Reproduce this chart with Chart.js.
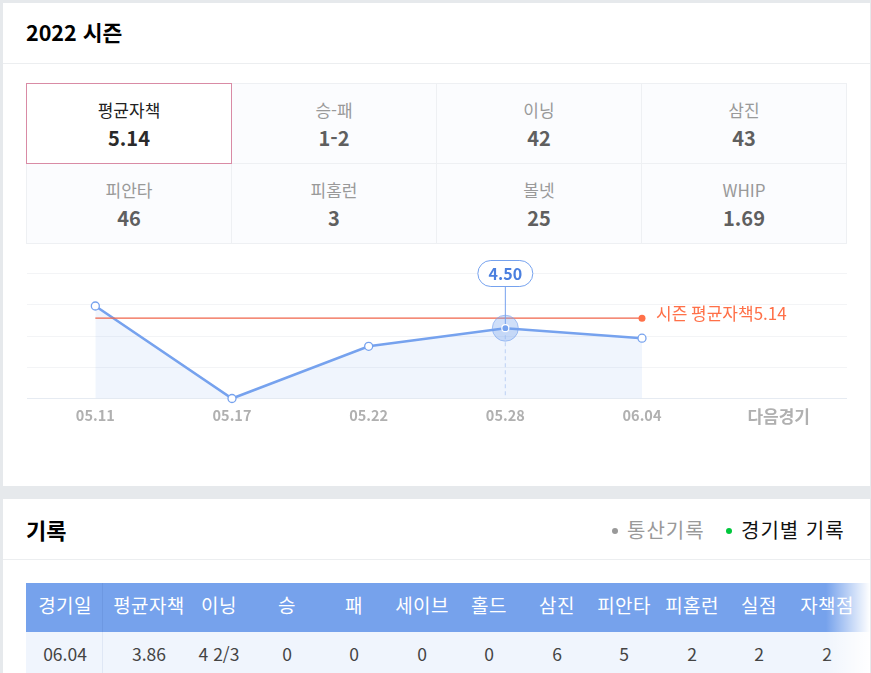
<!DOCTYPE html>
<html lang="ko">
<head>
<meta charset="utf-8">
<title>2022 시즌</title>
<script src="https://cdn.jsdelivr.net/npm/chart.js@4"></script>
<style>
  * { box-sizing: border-box; }
  html, body { margin: 0; padding: 0; }
  body {
    width: 871px; height: 673px; overflow: hidden; position: relative;
    background: #e6e9ec; font-family: "Noto Sans CJK KR", "Noto Sans", sans-serif;
  }
  .card { position: absolute; left: 3px; width: 867px; background: #fff; }
  #card-season { top: 3px; height: 483px; }
  #card-record { top: 499px; height: 174px; overflow: hidden; }
  .head { position: absolute; left: 0; top: 0; width: 100%; border-bottom: 1px solid #eceef0; }
  #card-season .head { height: 61px; }
  #card-record .head { height: 61px; }
  .title { position: absolute; left: 23px; font-size: 21.5px; font-weight: 700; color: #000; line-height: 28px; top: 15px; }
  #card-record .title { font-size: 22px; top: 16px; }
  #stats { position: absolute; left: 23px; top: 80px; width: 821px; height: 161px; border: 1px solid #eef0f3; background: #fbfcfe; }
  .stat { position: absolute; width: 205px; height: 80px; text-align: center; border-right: 1px solid #eef0f3; border-bottom: 1px solid #eef0f3; }
  .stat .lbl { position: absolute; left: 0; right: 0; top: 15px; font-size: 17px; line-height: 22px; color: #999; }
  .stat .val { position: absolute; left: 0; right: 0; top: 40px; font-size: 20px; line-height: 28px; font-weight: 700; color: #5f5f5f; }
  .stat.on { background: #fff; border: 1px solid #d98ba5; left: -1px !important; top: -1px !important; width: 206px; height: 81px; }
  .stat.on .lbl { color: #222; }
  .stat.on .val { color: #2a2a2a; }
  #chart-box { position: absolute; left: 23px; top: 253px; width: 821px; height: 183px; }
  #eraChart { display: block; width: 821px; height: 183px; }
  #tabs { position: absolute; top: 17px; left: 0; width: 100%; font-size: 20px; line-height: 28px; letter-spacing: 1px; }
  #tabs span { position: absolute; white-space: nowrap; }
  #tabs i { position: absolute; border-radius: 50%; }
  #table { position: absolute; left: 23px; top: 84px; width: 844px; height: 90px; }
  #thead { position: absolute; left: 0; top: 0; width: 100%; height: 49px; background: #76a2ec; }
  #trow { position: absolute; left: 0; top: 49px; width: 100%; height: 41px; background: #f0f5fd; }
  .sep { position: absolute; left: 76px; top: 0; bottom: 0; width: 1px; }
  .cell { position: absolute; transform: translateX(-50%); white-space: nowrap; }
  #thead .cell { top: 8px; color: #fff; font-size: 19px; line-height: 28px; letter-spacing: 0.4px; }
  #trow .cell { top: 9px; color: #444; font-size: 17.5px; line-height: 26px; }
  #fade { position: absolute; right: 0; top: 0; width: 44px; height: 90px; background: linear-gradient(to right, rgba(255,255,255,0), #fff); }
</style>
</head>
<body>
<div class="card" id="card-season">
  <div class="head"><div class="title">2022 시즌</div></div>
  <div id="stats"></div>
  <div id="chart-box"><canvas id="eraChart" width="821" height="183"></canvas></div>
</div>
<div class="card" id="card-record">
  <div class="head">
    <div class="title">기록</div>
    <div id="tabs">
      <i style="left:609px;top:12px;width:6px;height:6px;background:#999"></i>
      <span style="left:624px;color:#999">통산기록</span>
      <i style="left:723px;top:12px;width:6px;height:6px;background:#00c73c"></i>
      <span style="left:738px;color:#111">경기별 기록</span>
    </div>
  </div>
  <div id="table">
    <div id="thead"><div class="sep" style="background:#6d98e2"></div></div>
    <div id="trow"><div class="sep" style="background:#dfe7f5"></div></div>
    <div id="fade"></div>
  </div>
</div>

<script>
// chart data
const gameDates = ["05.11", "05.17", "05.22", "05.28", "06.04", "다음경기"];
const eraValues = [5.92, 0, 3.34, 4.5, 3.86, null];
const seasonEraValues = [5.14, 5.14, 5.14, 5.14, 5.14, null];
const seasonEraLabel = "시즌 평균자책5.14";
const selectedGame = 3;
const selectedLabel = "4.50";
const yMin = 0;
const yMax = 8;
const yStep = 2;

// stat boxes
const statNames = ["평균자책", "승-패", "이닝", "삼진", "피안타", "피홈런", "볼넷", "WHIP"];
const statValues = ["5.14", "1-2", "42", "43", "46", "3", "25", "1.69"];

// record table
const tableHeads = ["경기일", "평균자책", "이닝", "승", "패", "세이브", "홀드", "삼진", "피안타", "피홈런", "실점", "자책점"];
const tableRow = ["06.04", "3.86", "4 2/3", "0", "0", "0", "0", "6", "5", "2", "2", "2"];
const columnCenters = [39, 123, 193, 261, 328, 396, 463, 531, 598, 666, 733, 801];

const BLUE = "#76a2ee";
const ORANGE = "#ff7048";

// -------- Stat boxes --------
const statsEl = document.getElementById("stats");
statNames.forEach((name, i) => {
  const box = document.createElement("div");
  box.className = i === 0 ? "stat on" : "stat";
  box.style.left = (i % 4) * 205 + "px";
  box.style.top = Math.floor(i / 4) * 80 + "px";
  box.innerHTML = `<div class="lbl">${name}</div><div class="val">${statValues[i]}</div>`;
  statsEl.appendChild(box);
});

// -------- Table --------
function fillRow(el, texts) {
  texts.forEach((text, i) => {
    const cell = document.createElement("div");
    cell.className = "cell";
    cell.style.left = columnCenters[i] + "px";
    cell.textContent = text;
    el.appendChild(cell);
  });
}
fillRow(document.getElementById("thead"), tableHeads);
fillRow(document.getElementById("trow"), tableRow);

// -------- Callout, halo and season label --------
const eraMarks = {
  id: "eraMarks",
  afterDatasetsDraw(chart) {
    const ctx = chart.ctx;
    const point = chart.getDatasetMeta(1).data[selectedGame];
    const avgEnd = chart.getDatasetMeta(0).data[4];
    const bottom = chart.scales.y.getPixelForValue(yMin);
    const pillW = 56;
    const pillH = 27;
    const pillTop = chart.chartArea.top - 13.5;

    ctx.save();
    // dashed drop line
    ctx.strokeStyle = "#c5d6f6";
    ctx.lineWidth = 1.2;
    ctx.setLineDash([4, 3]);
    ctx.beginPath();
    ctx.moveTo(point.x, point.y);
    ctx.lineTo(point.x, bottom);
    ctx.stroke();
    ctx.setLineDash([]);

    // stem up to the pill
    ctx.strokeStyle = BLUE;
    ctx.lineWidth = 1;
    ctx.beginPath();
    ctx.moveTo(point.x, point.y);
    ctx.lineTo(point.x, pillTop + pillH);
    ctx.stroke();

    // halo
    ctx.beginPath();
    ctx.arc(point.x, point.y, 13, 0, Math.PI * 2);
    ctx.fillStyle = "rgba(118, 162, 238, 0.35)";
    ctx.fill();
    ctx.strokeStyle = "rgba(118, 162, 238, 0.6)";
    ctx.stroke();

    // selected dot
    ctx.beginPath();
    ctx.arc(point.x, point.y, 3.5, 0, Math.PI * 2);
    ctx.fillStyle = BLUE;
    ctx.fill();
    ctx.strokeStyle = "#fff";
    ctx.lineWidth = 1.2;
    ctx.stroke();

    // pill
    ctx.beginPath();
    ctx.roundRect(point.x - pillW / 2 + 0.5, pillTop + 0.5, pillW - 1, pillH - 1, 13);
    ctx.fillStyle = "#fff";
    ctx.fill();
    ctx.strokeStyle = BLUE;
    ctx.lineWidth = 1;
    ctx.stroke();
    ctx.fillStyle = "#4a7fdf";
    ctx.font = '700 16px "Noto Sans CJK KR"';
    ctx.textAlign = "center";
    ctx.textBaseline = "middle";
    ctx.fillText(selectedLabel, point.x, pillTop + pillH / 2);

    // season label
    ctx.fillStyle = ORANGE;
    ctx.font = '17px "Noto Sans CJK KR"';
    ctx.textAlign = "left";
    ctx.fillText(seasonEraLabel, avgEnd.x + 14, avgEnd.y - 5);
    ctx.restore();
  },
};

// -------- Chart --------
new Chart(document.getElementById("eraChart"), {
  type: "line",
  data: {
    labels: gameDates,
    datasets: [
      {
        label: "시즌 평균자책",
        data: seasonEraValues,
        borderColor: "#f0654a",
        borderWidth: 1.2,
        pointRadius: [0, 0, 0, 0, 3.5, 0],
        pointBackgroundColor: ORANGE,
        pointBorderWidth: 0,
        fill: false,
        clip: false,
        order: 1,
      },
      {
        label: "평균자책",
        data: eraValues,
        borderColor: BLUE,
        borderWidth: 2.6,
        backgroundColor: "rgba(118, 162, 238, 0.11)",
        fill: "origin",
        tension: 0,
        pointRadius: [4, 4, 4, 0, 4, 0],
        pointBackgroundColor: "#fff",
        pointBorderColor: BLUE,
        pointBorderWidth: 1.3,
        clip: false,
        order: 2,
      },
    ],
  },
  options: {
    responsive: false,
    animation: false,
    layout: { autoPadding: false, padding: { top: 17.5, left: 1, right: 0, bottom: 0 } },
    plugins: { legend: { display: false }, tooltip: { enabled: false } },
    scales: {
      x: {
        grid: { display: false },
        border: { display: false },
        offset: true,
        ticks: {
          color: "#b0b0b0",
          font: (c) => ({
            family: "Noto Sans CJK KR",
            size: c.index === 5 ? 17 : 14.5,
            weight: 700,
          }),
          padding: 0,
          maxRotation: 0,
          autoSkip: false,
        },
        afterFit(scale) { scale.height = 40.5; },
      },
      y: {
        min: yMin,
        max: yMax,
        border: { display: false },
        grid: {
          color: (c) => (c.tick.value === yMin ? "#e6ebf2" : "#f3f4f6"),
          drawTicks: false,
          lineWidth: 1,
        },
        ticks: { display: false, stepSize: yStep },
        afterFit(scale) { scale.width = 0; },
      },
    },
  },
  plugins: [eraMarks],
});
</script>
</body>
</html>
